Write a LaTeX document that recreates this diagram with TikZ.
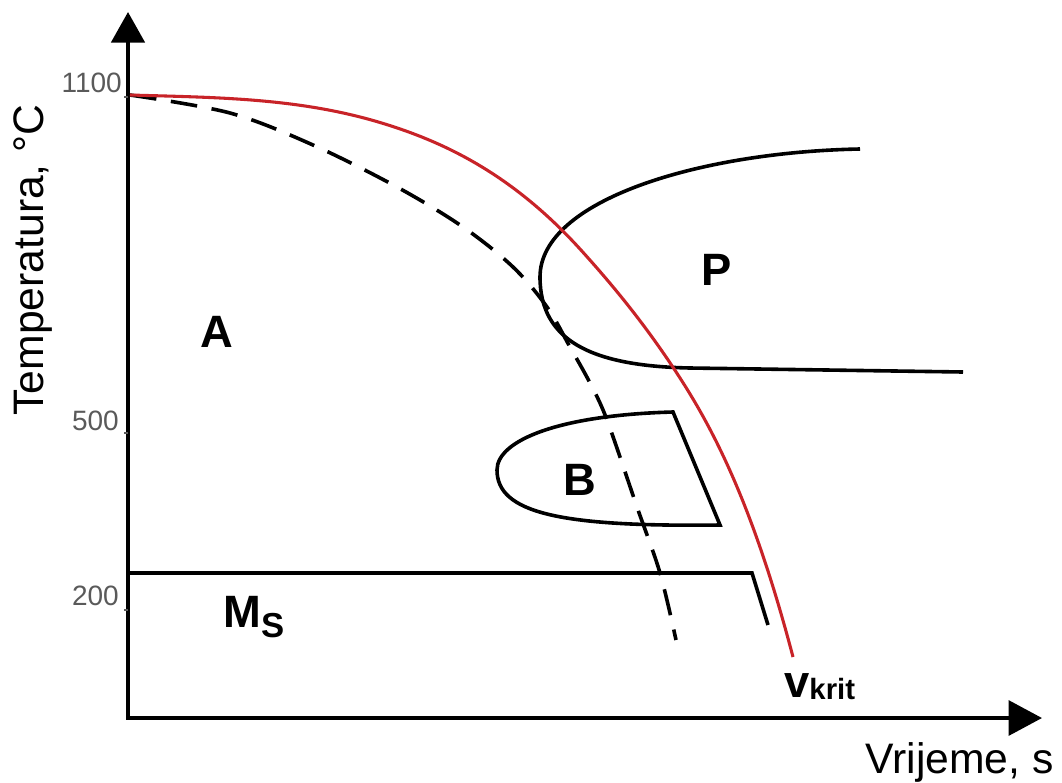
\documentclass[tikz,border=0pt]{standalone}
\usepackage{fontspec}
\setmainfont{Liberation Sans}
\usetikzlibrary{arrows.meta}
\definecolor{curvered}{RGB}{200,35,40}
\definecolor{tickgray}{RGB}{90,90,90}
\begin{document}
\begin{tikzpicture}[x=0.75pt,y=-0.75pt,
  axis/.style={line width=3pt, line join=miter,
    {Triangle[length=23pt,width=25pt]}-{Triangle[length=25pt,width=26pt]}},
  curve/.style={line width=2.7pt, line join=miter},
  redcurve/.style={line width=2.3pt, curvered},
  dashcurve/.style={line width=2.7pt, dash pattern=on 20pt off 11pt},
  ticklabel/.style={anchor=base east, inner sep=0pt, text=tickgray, font=\fontsize{21}{21}\selectfont},
  region/.style={anchor=base, inner sep=0pt, font=\fontsize{34}{34}\selectfont\bfseries},
  axislabel/.style={inner sep=0pt, font=\fontsize{32}{32}\selectfont}]
\useasboundingbox (0,0) rectangle (1062,782);
\fill[white] (0,0) rectangle (1062,782);

% axes
\coordinate (O) at (128,718);
\coordinate (Ytip) at (128,12);
\coordinate (Xtip) at (1042,718);
\draw[axis] (Ytip) -- (O) -- (Xtip);

% ticks and tick labels
\draw[tickgray, line width=0.8pt] (124,97) -- (128,97) (124,433) -- (128,433) (124,610) -- (128,610);
\node[ticklabel] (t1100) at (122,92) {1100};
\node[ticklabel] (t500) at (119,430) {500};
\node[ticklabel] (t200) at (119,605) {200};

% axis labels
\node[axislabel, rotate=90] (ylab) at (33,260) {Temperatura, °C};
\node[axislabel, anchor=base east] (xlab) at (1054,773) {Vrijeme, s};

% pearlite nose
\draw[curve] (860,149) .. controls (700,152) and (540,200) .. (540,277)
  .. controls (540,340) and (590,366) .. (690,368) -- (963,372);

% bainite region
\draw[curve] (673,412) .. controls (560,415) and (497,440) .. (497,470)
  .. controls (497,513) and (560,527) .. (720,525) -- cycle;

% martensite start line
\draw[curve] (130,573) -- (752,573) -- (768,625);

% dashed cooling curve
\draw[dashcurve] plot[smooth, tension=0.55] coordinates {(130,95) (230,113) (313,145) (397,187) (463,227) (513,267) (547,307) (570,347) (590,383) (607,420) (637,507) (660,573) (676,640)};

% critical cooling curve
\draw[redcurve] (130,95) .. controls (213.3,97.5) and (296.7,97.5) .. (380,122.5)
  .. controls (446.7,142.5) and (513.3,175.7) .. (580,249)
  .. controls (613.3,285.7) and (646.7,326.3) .. (680,378)
  .. controls (717.7,436.4) and (755.3,513.7) .. (793,657);

% region labels
\node[region] (A) at (217,347) {A};
\node[region] (P) at (717,285) {P};
\node[region] (B) at (580,495) {B};
\node[region, anchor=base west] (Ms) at (223,627) {M\raisebox{-8pt}{\fontsize{26}{26}\selectfont S}};
\node[region, anchor=base west] (vkrit) at (784,697) {v\raisebox{-2pt}{\fontsize{22}{22}\selectfont krit}};
\end{tikzpicture}
\end{document}
